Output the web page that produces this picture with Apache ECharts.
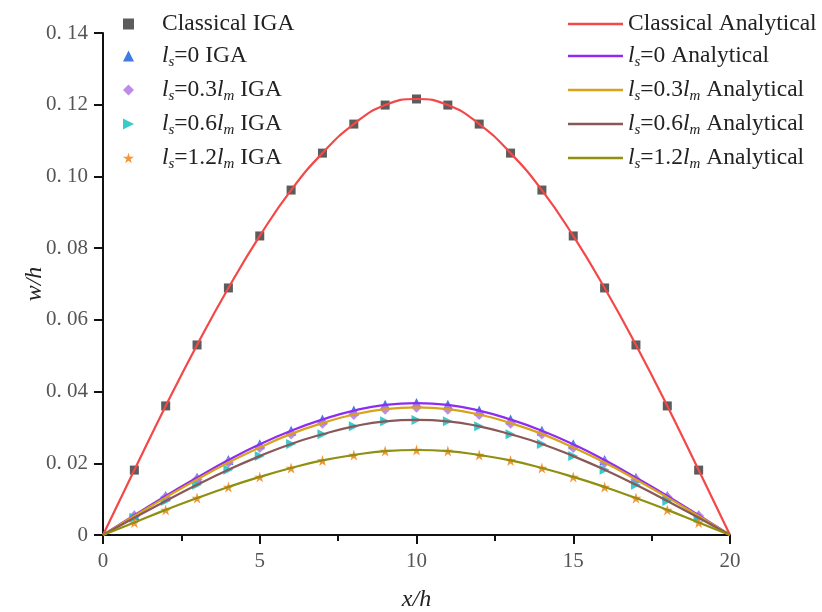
<!DOCTYPE html>
<html>
<head>
<meta charset="utf-8">
<script src="https://cdn.jsdelivr.net/npm/echarts@6/dist/echarts.min.js"></script>
<style>
html,body{margin:0;padding:0;background:#fff;}
#chart{width:822px;height:612px;}
</style>
</head>
<body>
<div id="chart"></div>
<script>
// x/h 位置
var xPos = [0,1,2,3,4,5,6,7,8,9,10,11,12,13,14,15,16,17,18,19,20];
// w/h 读图数值
var wClassical = [0,0.0181,0.0360,0.0530,0.0689,0.0834,0.0962,0.1065,0.1146,0.1199,0.1216,0.1199,0.1146,0.1065,0.0962,0.0834,0.0689,0.0530,0.0360,0.0181,0];
var wLs0   = [0,0.0055,0.0109,0.0160,0.0209,0.0253,0.0291,0.0322,0.0347,0.0363,0.0368,0.0363,0.0347,0.0322,0.0291,0.0253,0.0209,0.0160,0.0109,0.0055,0];
var wLs03  = [0,0.0053,0.0105,0.0155,0.0202,0.0244,0.0282,0.0312,0.0336,0.0351,0.0356,0.0351,0.0336,0.0312,0.0282,0.0244,0.0202,0.0155,0.0105,0.0053,0];
var wLs06  = [0,0.0048,0.0095,0.0140,0.0182,0.0220,0.0254,0.0281,0.0303,0.0317,0.0321,0.0317,0.0303,0.0281,0.0254,0.0220,0.0182,0.0140,0.0095,0.0048,0];
var wLs12  = [0,0.0035,0.0070,0.0103,0.0134,0.0162,0.0187,0.0208,0.0223,0.0234,0.0237,0.0234,0.0223,0.0208,0.0187,0.0162,0.0134,0.0103,0.0070,0.0035,0];

var igaNames = ['Classical IGA','ls=0 IGA','ls=0.3lm IGA','ls=0.6lm IGA','ls=1.2lm IGA'];
var anaNames = ['Classical Analytical','ls=0 Analytical','ls=0.3lm Analytical','ls=0.6lm Analytical','ls=1.2lm Analytical'];
var allW = [wClassical,wLs0,wLs03,wLs06,wLs12];
var symbols = ['rect','triangle','diamond','path://M0,0 L10,5 L0,10 Z','path://M50,0 L61,35 L98,35 L68,57 L79,91 L50,70 L21,91 L32,57 L2,35 L39,35 Z'];
var symSizes = [9,10,11,10,11];
var symColors = ['#4a4a4a','#2a6de0','#b77fe3','#22c4c8','#f28a22'];
var lineColors = ['#f44848','#8f2cf2','#d8a21a','#8a5858','#8f8f10'];

var SERIF = '"Liberation Serif","Times New Roman",serif';

function pairs(arr, inner){
	var out = [];
	for(var i=0;i<xPos.length;i++){
		if(inner && (i==0 || i==xPos.length-1)) continue;
		out.push([xPos[i], arr[i]]);
	}
	return out;
}

// 图例文字，带斜体和下标
function legendText(name){
	if(name.indexOf('Classical')==0) return '{t|'+name+'}';
	var m = name.match(/^ls=([0-9.]+)(lm)? (.*)$/);
	var s = '{i|l}{s|s}{t|='+m[1]+'}';
	if(m[2]) s += '{i|l}{s|m}';
	s += '{t| '+m[3]+'}';
	return s;
}
var richStyle = {
	t:{fontFamily:SERIF,fontSize:23.5,color:'#222',lineHeight:28,verticalAlign:'middle'},
	i:{fontFamily:SERIF,fontSize:23.5,fontStyle:'italic',color:'#222',lineHeight:28,verticalAlign:'middle'},
	s:{fontFamily:SERIF,fontSize:15,fontStyle:'italic',color:'#222',lineHeight:14,verticalAlign:'bottom'}
};

var series = [];
for(var k=0;k<5;k++){
	series.push({
		name:igaNames[k],
		type:'scatter',
		symbol:symbols[k],
		symbolSize:symSizes[k],
		itemStyle:{color:symColors[k],opacity:0.9},
		z:2,
		data:pairs(allW[k],true)
	});
}
for(var k=0;k<5;k++){
	series.push({
		name:anaNames[k],
		type:'line',
		smooth:true,
		showSymbol:false,
		symbol:'none',
		lineStyle:{color:lineColors[k],width:2.2},
		itemStyle:{color:lineColors[k]},
		z:3,
		data:pairs(allW[k],false)
	});
}

var chart = echarts.init(document.getElementById('chart'));
var option = {
	animation:false,
	backgroundColor:'#fff',
	grid:{left:103,right:92,top:33,bottom:77,outerBoundsMode:'none',containLabel:false},
	legend:[{
		data:igaNames,
		orient:'vertical',
		left:118,
		top:7,
		itemGap:8,
		itemWidth:11,
		itemHeight:11,
		formatter:legendText,
		textStyle:{padding:[0,0,0,23],rich:richStyle}
	},{
		data:anaNames,
		orient:'vertical',
		left:563,
		top:7,
		itemGap:8,
		itemWidth:55,
		itemHeight:2.5,
		icon:'rect',
		formatter:legendText,
		textStyle:{rich:richStyle}
	}],
	xAxis:{
		type:'value',
		min:0,max:20,interval:5,
		name:'x/h',
		nameLocation:'middle',
		nameGap:53,
		nameMoveOverlap:false,
		nameTextStyle:{fontFamily:SERIF,fontSize:24,fontStyle:'italic',color:'#222'},
		axisLine:{lineStyle:{color:'#111',width:2}},
		axisTick:{inside:false,length:9,lineStyle:{color:'#111',width:2}},
		minorTick:{show:true,splitNumber:2,length:6,lineStyle:{color:'#111',width:2}},
		axisLabel:{fontFamily:SERIF,fontSize:21,color:'#555',margin:16},
		splitLine:{show:false}
	},
	yAxis:{
		type:'value',
		min:0,max:0.14,interval:0.02,
		name:'w/h',
		nameLocation:'middle',
		nameGap:56,
		nameMoveOverlap:false,
		nameTextStyle:{fontFamily:SERIF,fontSize:24,fontStyle:'italic',color:'#222'},
		axisLine:{show:true,lineStyle:{color:'#111',width:2}},
		axisTick:{show:true,inside:false,length:9,lineStyle:{color:'#111',width:2}},
		axisLabel:{fontFamily:SERIF,fontSize:21,color:'#555',margin:15,
			formatter:function(v){
				if(v==0) return '0';
				return v.toFixed(2).replace('.','. ');
			}},
		splitLine:{show:false}
	},
	series:series
};
chart.setOption(option);
</script>
</body>
</html>
